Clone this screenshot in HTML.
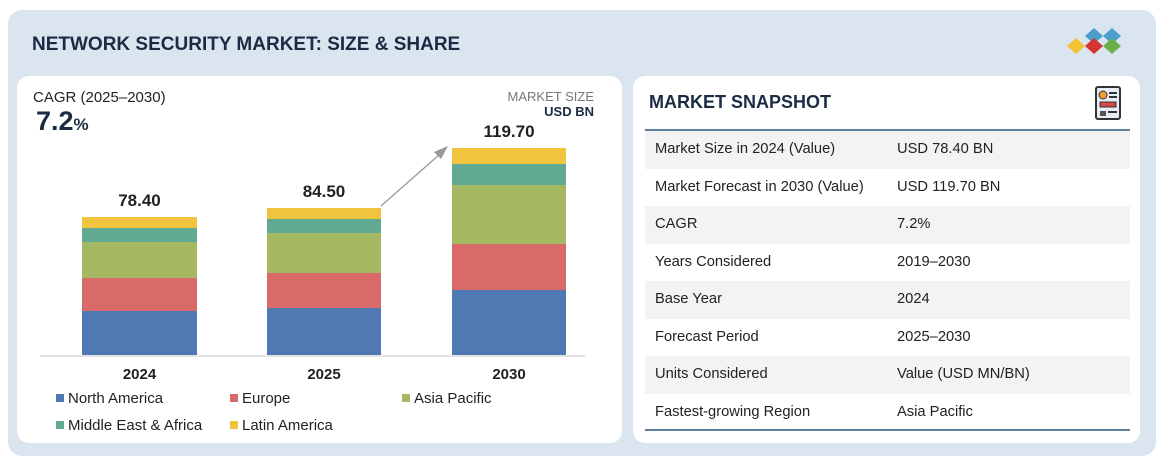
<!DOCTYPE html>
<html><head><meta charset="utf-8"><style>
*{margin:0;padding:0;box-sizing:border-box}
body{width:1164px;height:462px;background:#fff;font-family:"Liberation Sans",sans-serif;position:relative;overflow:hidden}
.a{position:absolute}
.outer{left:8px;top:10px;width:1148px;height:446px;background:#dbe5f0;border-radius:14px}
.card{background:#fff;border-radius:12px}
.bar div{position:absolute;left:0;width:100%}
.t{color:#222;font-size:14.5px}
.lg{font-size:15px;color:#222}
.sq{display:inline-block;width:8px;height:8px;margin-right:4px;vertical-align:1px}
.row{position:absolute;left:645px;width:485px;height:37.5px}
.row span{position:absolute;top:10px;font-size:14.7px;color:#222}
</style></head><body>
<div class="a outer"></div>
<div class="a" style="left:32px;top:34px;font-size:19px;font-weight:bold;color:#1c2b44">NETWORK SECURITY MARKET: SIZE &amp; SHARE</div>
<svg class="a" style="left:1064px;top:28px" width="62" height="32">
<polygon points="21,8 30,0 39,8 30,16" fill="#4b9dcb"/><polygon points="39,8 48,0 57,8 48,16" fill="#4b9dcb"/>
<polygon points="3,18 12,10 21,18 12,26" fill="#f1c232"/><polygon points="21,18 30,10 39,18 30,26" fill="#d63333"/><polygon points="39,18 48,10 57,18 48,26" fill="#6ab04c"/>
</svg>
<div class="a card" style="left:17px;top:76px;width:605px;height:367px"></div>
<div class="a card" style="left:633px;top:76px;width:507px;height:367px"></div>
<div class="a t" style="left:33px;top:89px;font-size:15px">CAGR (2025–2030)</div>
<div class="a" style="left:36px;top:106px;font-size:27px;font-weight:bold;color:#1c2b44">7.2<span style="font-size:17px">%</span></div>
<div class="a" style="left:420px;top:89px;width:174px;text-align:right;font-size:13px;color:#777">MARKET SIZE</div>
<div class="a" style="left:420px;top:104px;width:174px;text-align:right;font-size:13px;font-weight:bold;color:#1c2b44">USD BN</div>
<div class="a bar" style="left:82px;top:217px;width:115px;height:138px">
<div style="top:0;height:11px;background:#f0c43f"></div><div style="top:11px;height:14px;background:#62a994"></div><div style="top:25px;height:36px;background:#a4b961"></div><div style="top:61px;height:33px;background:#d86a6a"></div><div style="top:94px;height:44px;background:#4f79b3"></div></div>
<div class="a bar" style="left:267px;top:208px;width:114px;height:147px">
<div style="top:0;height:11px;background:#f0c43f"></div><div style="top:11px;height:14px;background:#62a994"></div><div style="top:25px;height:40px;background:#a4b961"></div><div style="top:65px;height:35px;background:#d86a6a"></div><div style="top:100px;height:47px;background:#4f79b3"></div></div>
<div class="a bar" style="left:452px;top:148px;width:114px;height:207px">
<div style="top:0;height:16px;background:#f0c43f"></div><div style="top:16px;height:21px;background:#62a994"></div><div style="top:37px;height:59px;background:#a4b961"></div><div style="top:96px;height:46px;background:#d86a6a"></div><div style="top:142px;height:65px;background:#4f79b3"></div></div>
<div class="a" style="left:40px;top:355px;width:545px;height:2px;background:#e3e3e3"></div>
<div class="a" style="left:82px;top:191px;width:115px;text-align:center;font-size:17px;font-weight:bold;color:#222">78.40</div>
<div class="a" style="left:267px;top:182px;width:114px;text-align:center;font-size:17px;font-weight:bold;color:#222">84.50</div>
<div class="a" style="left:452px;top:122px;width:114px;text-align:center;font-size:17px;font-weight:bold;color:#222">119.70</div>
<svg class="a" style="left:0;top:0" width="620" height="240"><line x1="381" y1="206" x2="440" y2="154" stroke="#999" stroke-width="1.3"/><polygon points="448,146 434,152 441,159" fill="#999"/></svg>
<div class="a" style="left:82px;top:366px;width:115px;text-align:center;font-size:15px;font-weight:bold;color:#222">2024</div>
<div class="a" style="left:267px;top:366px;width:114px;text-align:center;font-size:15px;font-weight:bold;color:#222">2025</div>
<div class="a" style="left:452px;top:366px;width:114px;text-align:center;font-size:15px;font-weight:bold;color:#222">2030</div>
<div class="a lg" style="left:56px;top:390px"><span class="sq" style="background:#4f79b3"></span>North America</div>
<div class="a lg" style="left:230px;top:390px"><span class="sq" style="background:#d86a6a"></span>Europe</div>
<div class="a lg" style="left:402px;top:390px"><span class="sq" style="background:#a4b961"></span>Asia Pacific</div>
<div class="a lg" style="left:56px;top:417px"><span class="sq" style="background:#62a994"></span>Middle East &amp; Africa</div>
<div class="a lg" style="left:230px;top:417px"><span class="sq" style="background:#f0c43f"></span>Latin America</div>
<div class="a" style="left:649px;top:92px;font-size:18px;font-weight:bold;color:#1c2b44">MARKET SNAPSHOT</div>
<svg class="a" style="left:1094px;top:85px" width="30" height="36"><rect x="2" y="2" width="24" height="32" rx="2" fill="#e8eef6" stroke="#333" stroke-width="2"/><circle cx="9" cy="10" r="4" fill="#f0a030" stroke="#333"/><rect x="15" y="7" width="8" height="2" fill="#333"/><rect x="15" y="11" width="8" height="2" fill="#333"/><rect x="6" y="17" width="16" height="5" fill="#d64a4a" stroke="#333"/><rect x="6" y="26" width="6" height="5" fill="#555"/><rect x="14" y="26" width="9" height="2" fill="#333"/></svg>
<div class="a" style="left:645px;top:129px;width:485px;height:2px;background:#5f7fa3"></div>
<div class="row" style="top:131px;background:#f3f3f3"><span style="left:10px">Market Size in 2024 (Value)</span><span style="left:252px">USD 78.40 BN</span></div>
<div class="row" style="top:168.5px"><span style="left:10px">Market Forecast in 2030 (Value)</span><span style="left:252px">USD 119.70 BN</span></div>
<div class="row" style="top:206px;background:#f3f3f3"><span style="left:10px">CAGR</span><span style="left:252px">7.2%</span></div>
<div class="row" style="top:243.5px"><span style="left:10px">Years Considered</span><span style="left:252px">2019–2030</span></div>
<div class="row" style="top:281px;background:#f3f3f3"><span style="left:10px">Base Year</span><span style="left:252px">2024</span></div>
<div class="row" style="top:318.5px"><span style="left:10px">Forecast Period</span><span style="left:252px">2025–2030</span></div>
<div class="row" style="top:356px;background:#f3f3f3"><span style="left:10px">Units Considered</span><span style="left:252px">Value (USD MN/BN)</span></div>
<div class="row" style="top:393.5px"><span style="left:10px">Fastest-growing Region</span><span style="left:252px">Asia Pacific</span></div>
<div class="a" style="left:645px;top:429px;width:485px;height:2px;background:#5f7fa3"></div>
</body></html>
